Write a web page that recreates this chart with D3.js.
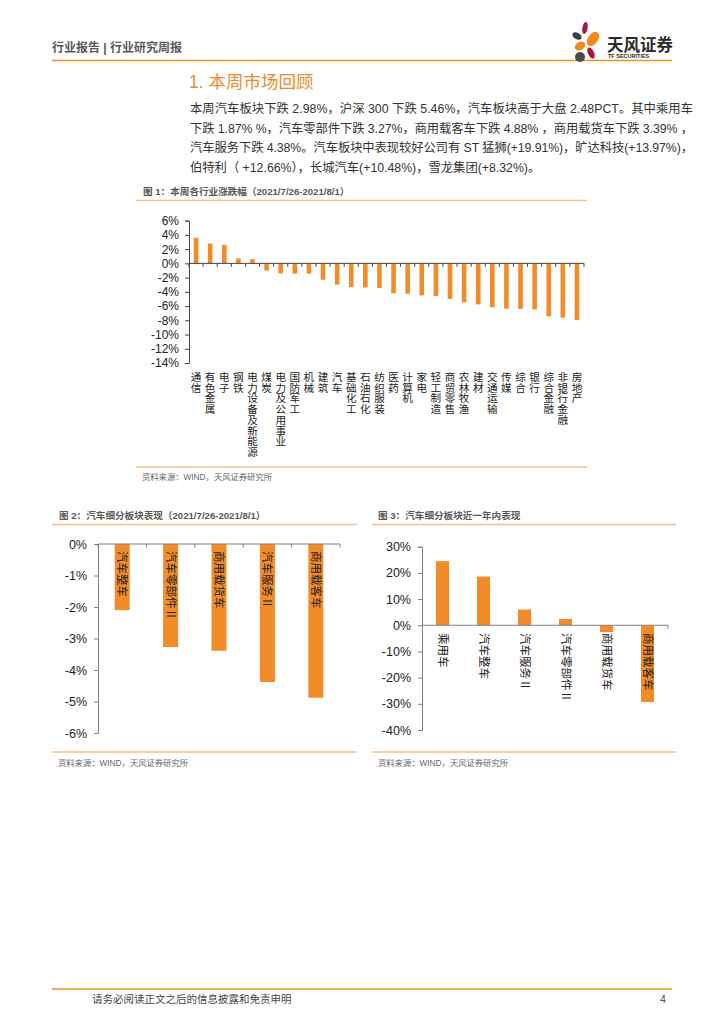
<!DOCTYPE html>
<html>
<head>
<meta charset="utf-8">
<script src="https://cdn.jsdelivr.net/npm/d3@7"></script>
<style>
  html, body { margin: 0; padding: 0; background: #fff; }
  svg { display: block; }
  text { font-family: "Liberation Sans", Arial, "Noto Sans CJK SC", sans-serif; }
  .cjk { font-family: "Liberation Sans", "Noto Sans CJK SC", sans-serif; }
</style>
</head>
<body>
<svg id="page" width="724" height="1024"></svg>
<script>
// ---------- DATA ----------
const industries = ["通信","有色金属","电子","钢铁","电力设备及新能源","煤炭","电力及公用事业","国防军工","机械","建筑","汽车","基础化工","石油石化","纺织服装","医药","计算机","家电","轻工制造","商贸零售","农林牧渔","建材","交通运输","传媒","综合","银行","综合金融","非银行金融","房地产"];
const industryChange = [3.6,2.8,2.6,0.7,0.6,-1.0,-1.4,-1.45,-1.45,-2.3,-2.98,-3.33,-3.38,-3.47,-4.2,-4.26,-4.49,-4.59,-5.0,-5.48,-5.76,-6.18,-6.37,-6.41,-6.46,-7.44,-7.63,-7.96];
const industryTicks = [6,4,2,0,-2,-4,-6,-8,-10,-12,-14];

const autoSectors = ["汽车整车","汽车零部件Ⅱ","商用载货车","汽车服务Ⅱ","商用载客车"];
const autoWeekChange = [-2.1,-3.27,-3.39,-4.38,-4.88];
const autoWeekTicks = [0,-1,-2,-3,-4,-5,-6];

const autoYearSectors = ["乘用车","汽车整车","汽车服务Ⅱ","汽车零部件Ⅱ","商用载货车","商用载客车"];
const autoYearChange = [24.5,18.6,6.0,2.4,-2.6,-29.3];
const autoYearTicks = [30,20,10,0,-10,-20,-30,-40];

const paragraphLines = [
  "本周汽车板块下跌 2.98%，沪深 300 下跌 5.46%，汽车板块高于大盘 2.48PCT。其中乘用车",
  "下跌 1.87% %，汽车零部件下跌 3.27%，商用载客车下跌 4.88% ，商用载货车下跌 3.39% ，",
  "汽车服务下跌 4.38%。汽车板块中表现较好公司有 ST 猛狮(+19.91%)，旷达科技(+13.97%)，",
  "伯特利（ +12.66%），长城汽车(+10.48%)，雪龙集团(+8.32%)。"
];

// ---------- STYLE ----------
const ORANGE = "#F28C28";
const LIGHT_ORANGE = "#F7C08A";
const HEAD_ORANGE = "#F0901E";
const GREY = "#595959";
const AXIS = "#808080";

const svg = d3.select("#page");

// ---------- HEADER ----------
svg.append("text").attr("x", 52).attr("y", 52).attr("font-size", 12).attr("font-weight", "bold")
  .attr("fill", GREY).attr("class","cjk").text("行业报告 | 行业研究周报");
svg.append("line").attr("x1", 52).attr("x2", 672).attr("y1", 60.5).attr("y2", 60.5)
  .attr("stroke", HEAD_ORANGE).attr("stroke-width", 1.5);

// logo petals
const logo = svg.append("g");
const petal = (cx, cy, rx, ry, rot, fill) => logo.append("ellipse").attr("cx", cx).attr("cy", cy)
  .attr("rx", rx).attr("ry", ry).attr("fill", fill).attr("transform", `rotate(${rot},${cx},${cy})`);
petal(585, 28, 2.6, 6, 10, "#A8163A");
petal(577, 36, 5, 3.2, 30, "#3F3F3F");
petal(593, 39, 5, 8, 35, "#F08A1A");
petal(580, 46, 5.5, 4, -30, "#F08A1A");
petal(591, 53, 3, 6, -25, "#A8163A");
petal(580, 57, 5, 5, 0, "#4A4A4A");
svg.append("text").attr("x", 607).attr("y", 51).attr("font-size", 16.5).attr("font-weight","bold")
  .attr("fill", "#2b2b2b").attr("class","cjk").text("天风证券");
svg.append("text").attr("x", 608).attr("y", 58).attr("font-size", 5.5).attr("font-weight","bold")
  .attr("fill", "#2b2b2b").text("TF SECURITIES");

// ---------- SECTION TITLE & PARAGRAPH ----------
svg.append("text").attr("x", 189).attr("y", 88).attr("font-size", 17.5)
  .attr("fill", "#F08A2C").attr("class","cjk").text("1. 本周市场回顾");

paragraphLines.forEach((t, i) => {
  const tx = svg.append("text").attr("x", 190).attr("y", 113 + i * 19.6)
    .attr("font-size", 12.3).attr("fill", "#333").attr("class","cjk").text(t);
  if (i < 3) tx.attr("textLength", 503).attr("lengthAdjust", "spacing");
});

// ---------- CHART FRAME helper ----------
function frame(x1, x2, titleX, titleY, lineY, title, botY, srcY) {
  svg.append("text").attr("x", titleX).attr("y", titleY).attr("font-size", 9.6).attr("font-weight","bold")
    .attr("fill", GREY).attr("class","cjk").text(title);
  svg.append("line").attr("x1", x1).attr("x2", x2).attr("y1", lineY).attr("y2", lineY)
    .attr("stroke", LIGHT_ORANGE).attr("stroke-width", 1.3);
  svg.append("line").attr("x1", x1).attr("x2", x2).attr("y1", botY).attr("y2", botY)
    .attr("stroke", LIGHT_ORANGE).attr("stroke-width", 1.3);
  svg.append("text").attr("x", x1 + 6).attr("y", srcY).attr("font-size", 8.3)
    .attr("fill", "#666").attr("class","cjk").text("资料来源：WIND，天风证券研究所");
}

// ---------- CHART 1 ----------
frame(136, 587, 143, 195, 200.5, "图 1：本周各行业涨跌幅（2021/7/26-2021/8/1）", 467, 480);
{
  const x = d3.scaleBand().domain(industries).range([189, 584]);
  const y = d3.scaleLinear().domain([-14, 6]).range([363, 220.7]);
  const g = svg.append("g");
  g.append("g").attr("transform", "translate(189,0)")
    .call(d3.axisLeft(y).tickValues(industryTicks).tickFormat(d => d + "%").tickSize(4).tickPadding(6))
    .call(a => { a.selectAll("text").attr("font-size", 12).attr("fill", "#222");
                 a.select(".domain").attr("stroke", "#444"); a.selectAll(".tick line").attr("stroke", "#444"); });
  g.selectAll("rect").data(industryChange).enter().append("rect")
    .attr("x", (d, i) => x(industries[i]) + x.bandwidth() / 2 - 2.3)
    .attr("width", 4.6)
    .attr("y", d => y(Math.max(0, d)))
    .attr("height", d => Math.abs(y(d) - y(0)))
    .attr("fill", ORANGE);
  g.append("line").attr("x1", 189).attr("x2", 584).attr("y1", y(0)).attr("y2", y(0)).attr("stroke", "#444");
  const bounds = industries.map(c => x(c)).concat([584]);
  g.selectAll(".xt").data(bounds).enter().append("line").attr("class","xt")
    .attr("x1", d => d).attr("x2", d => d).attr("y1", y(0)).attr("y2", y(0) + 3.5).attr("stroke", "#444");
  // vertical (stacked, upright) category labels
  const CH = 10.7;
  const labs = g.selectAll(".lab").data(industries).enter().append("text").attr("class","lab cjk")
    .attr("font-size", 10.6).attr("fill", "#222").attr("text-anchor", "middle");
  labs.each(function(d) {
    const cx = x(d) + x.bandwidth() / 2;
    const t = d3.select(this);
    Array.from(d).forEach((ch, k) => {
      t.append("tspan").attr("x", cx).attr("y", 381 + k * CH).text(ch);
    });
  });
}

// ---------- CHART 2 ----------
frame(52, 357, 59, 519, 524.5, "图 2：汽车细分板块表现（2021/7/26-2021/8/1）", 752, 766);
{
  const x = d3.scaleBand().domain(autoSectors).range([98, 340]);
  const y = d3.scaleLinear().domain([-6, 0]).range([733, 544]);
  const g = svg.append("g");
  g.append("g").attr("transform", "translate(98,0)")
    .call(d3.axisLeft(y).tickValues(autoWeekTicks).tickFormat(d => d + "%").tickSize(4).tickPadding(7))
    .call(a => { a.selectAll("text").attr("font-size", 12.5).attr("fill", "#222");
                 a.select(".domain").attr("stroke", AXIS); a.selectAll(".tick line").attr("stroke", AXIS); });
  g.selectAll("rect").data(autoWeekChange).enter().append("rect")
    .attr("x", (d, i) => x(autoSectors[i]) + x.bandwidth() / 2 - 7.5)
    .attr("width", 15)
    .attr("y", y(0))
    .attr("height", d => y(d) - y(0))
    .attr("fill", ORANGE);
  g.append("line").attr("x1", 98).attr("x2", 340).attr("y1", y(0)).attr("y2", y(0)).attr("stroke", AXIS);
  const bounds = autoSectors.map(c => x(c)).concat([340]);
  g.selectAll(".xt").data(bounds).enter().append("line").attr("class","xt")
    .attr("x1", d => d).attr("x2", d => d).attr("y1", y(0)).attr("y2", y(0) + 3.5).attr("stroke", AXIS);
  g.selectAll(".lab").data(autoSectors).enter().append("text").attr("class","lab cjk")
    .attr("transform", d => `translate(${x(d) + x.bandwidth() / 2},551) rotate(90)`)
    .attr("dominant-baseline", "central").attr("font-size", 11.5).attr("fill", "#222")
    .text(d => d);
}

// ---------- CHART 3 ----------
frame(372, 676, 378, 519, 524.5, "图 3：汽车细分板块近一年内表现", 752, 766);
{
  const x = d3.scaleBand().domain(autoYearSectors).range([422, 668]);
  const y = d3.scaleLinear().domain([-40, 30]).range([730, 546.7]);
  const g = svg.append("g");
  g.append("g").attr("transform", "translate(422,0)")
    .call(d3.axisLeft(y).tickValues(autoYearTicks).tickFormat(d => d + "%").tickSize(4).tickPadding(7))
    .call(a => { a.selectAll("text").attr("font-size", 12.5).attr("fill", "#222");
                 a.select(".domain").attr("stroke", AXIS); a.selectAll(".tick line").attr("stroke", AXIS); });
  g.selectAll("rect").data(autoYearChange).enter().append("rect")
    .attr("x", (d, i) => x(autoYearSectors[i]) + x.bandwidth() / 2 - 6.5)
    .attr("width", 13)
    .attr("y", d => y(Math.max(0, d)))
    .attr("height", d => Math.abs(y(d) - y(0)))
    .attr("fill", ORANGE);
  g.append("line").attr("x1", 422).attr("x2", 668).attr("y1", y(0)).attr("y2", y(0)).attr("stroke", AXIS);
  g.append("line").attr("x1", 668).attr("x2", 668).attr("y1", y(0)).attr("y2", y(0) + 3.5).attr("stroke", AXIS);
  g.selectAll(".lab").data(autoYearSectors).enter().append("text").attr("class","lab cjk")
    .attr("transform", d => `translate(${x(d) + x.bandwidth() / 2},633) rotate(90)`)
    .attr("dominant-baseline", "central").attr("font-size", 11.5).attr("fill", "#222")
    .text(d => d);
}

// ---------- FOOTER ----------
svg.append("line").attr("x1", 52).attr("x2", 672).attr("y1", 989).attr("y2", 989)
  .attr("stroke", HEAD_ORANGE).attr("stroke-width", 1.5);
svg.append("text").attr("x", 92).attr("y", 1003).attr("font-size", 10.5).attr("fill", "#444")
  .attr("class","cjk").text("请务必阅读正文之后的信息披露和免责申明");
svg.append("text").attr("x", 660).attr("y", 1003).attr("font-size", 10.5).attr("fill", "#444").text("4");
</script>
</body>
</html>
